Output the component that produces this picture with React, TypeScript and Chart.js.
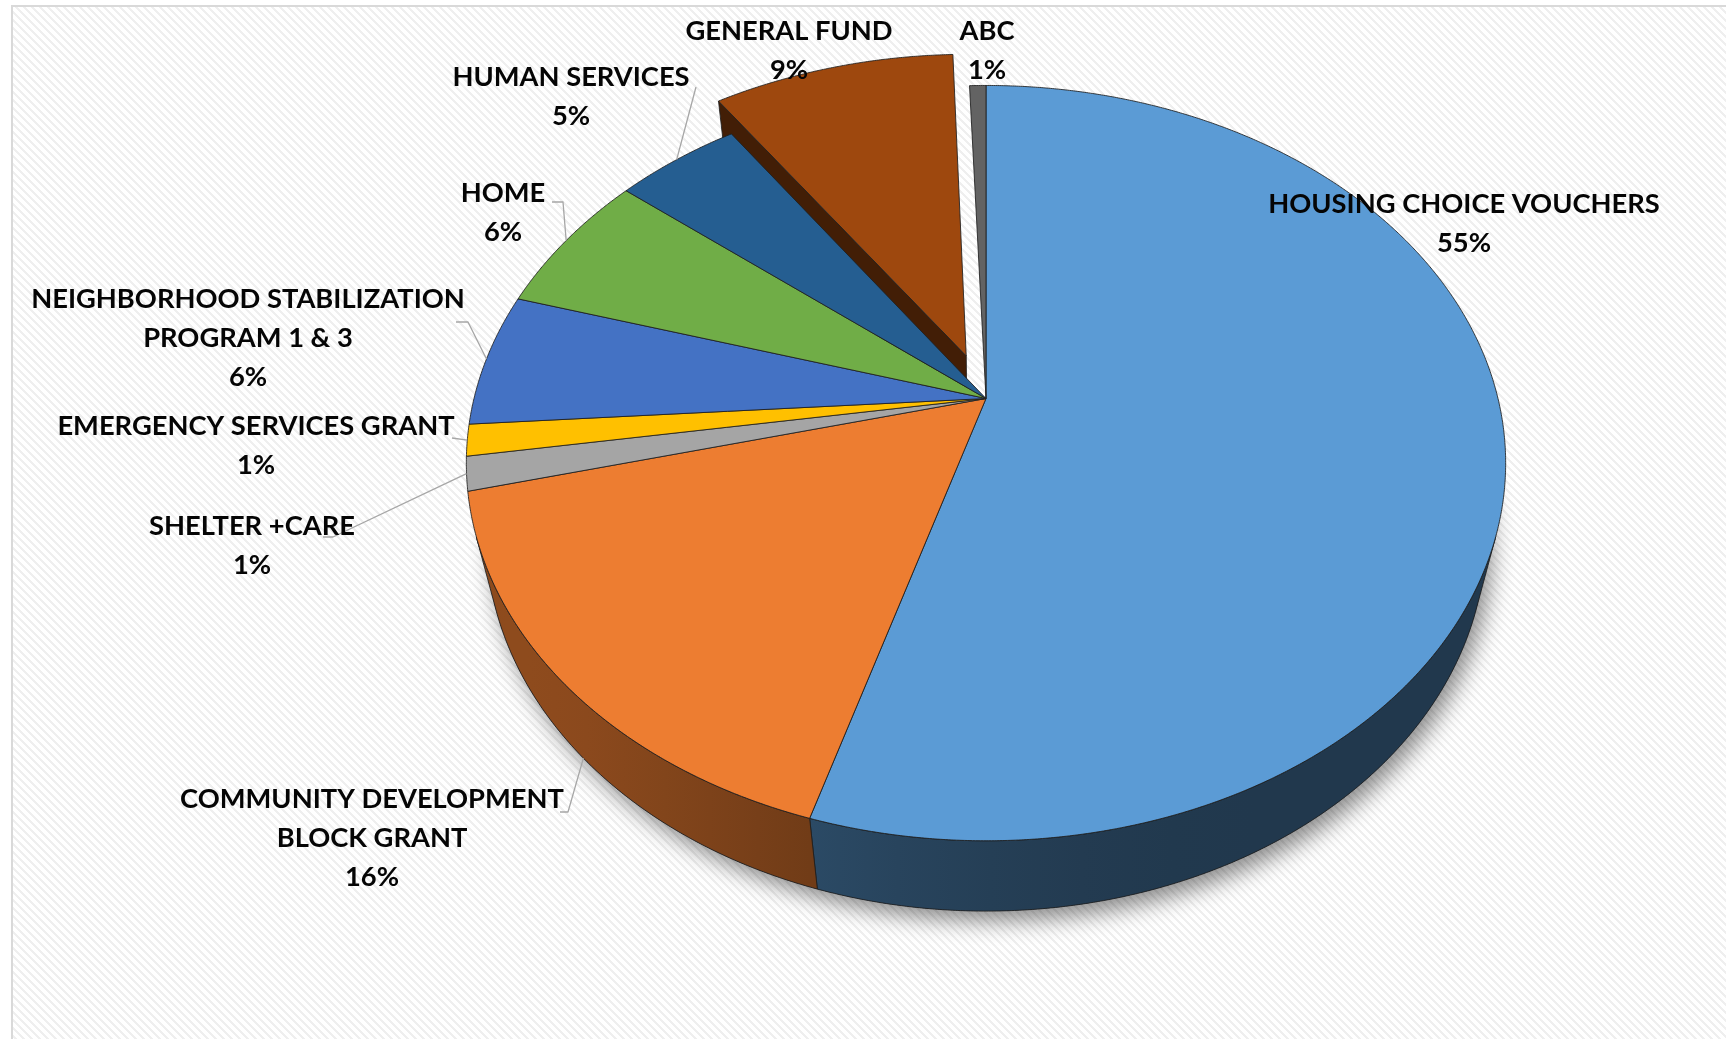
import React, { useEffect, useRef } from "react";
import { Chart, registerables } from "chart.js";

Chart.register(...registerables);

// ---------------- data ----------------
const categories = [
  "HOUSING CHOICE VOUCHERS",
  "COMMUNITY DEVELOPMENT\nBLOCK GRANT",
  "SHELTER +CARE",
  "EMERGENCY SERVICES GRANT",
  "NEIGHBORHOOD STABILIZATION\nPROGRAM 1 & 3",
  "HOME",
  "HUMAN SERVICES",
  "GENERAL FUND",
  "ABC",
];
const shares = [54.65, 16.45, 1.45, 1.35, 5.7, 6.2, 4.6, 9.0, 0.6];
const sliceColors = [
  "#5B9BD5",
  "#ED7D31",
  "#A5A5A5",
  "#FFC000",
  "#4472C4",
  "#70AD47",
  "#255E91",
  "#9E480E",
  "#636363",
];
const explodedIndex = 7;

// ---------------- layout (positions / styles) ----------------
const W = 1726;
const H = 1039;
const labelPos: [number, number][] = [
  [1464, 203],
  [372, 798],
  [252, 525],
  [256, 425],
  [248, 298],
  [503, 192],
  [571, 76],
  [789, 30],
  [987, 30],
];
// [x, y, horizontal elbow length]
const leaderStart: ([number, number, number] | null)[] = [
  null,
  [560, 812, 8],
  [323, 537, 10],
  [452, 438, 0],
  [456, 322, 12],
  [552, 202, 11],
  [696, 87, 0],
  null,
  null,
];
const leaderOnBase = [false, true, false, false, false, false, false, false, false];
const LINE_H = 39;
const FONT = "bold 27.3px Lato";

// perspective view of the pie
const VIEW = { sin: 0.716, cos: 0.698, dist: 4.08, depth: 0.218 };

type Pt = [number, number];

function proj(cx: number, cy: number, R: number, X: number, Y: number, Z: number): Pt {
  const d = VIEW.dist - (Y * VIEW.sin + Z * VIEW.cos);
  const yc = Y * VIEW.cos - Z * VIEW.sin;
  const F = R * VIEW.dist;
  return [cx + (F * X) / d, cy - (F * yc) / d];
}

function hexToRgb(hex: string): [number, number, number] {
  const h = hex.replace("#", "");
  return [parseInt(h.slice(0, 2), 16), parseInt(h.slice(2, 4), 16), parseInt(h.slice(4, 6), 16)];
}
function shade(hex: string, f: number) {
  const [r, g, b] = hexToRgb(hex);
  return `rgb(${Math.round(r * f)},${Math.round(g * f)},${Math.round(b * f)})`;
}
function wallFactor(t: number) {
  const c = Math.max(0, Math.cos(t - (145 * Math.PI) / 180));
  return 0.36 + 0.24 * c * c * c;
}

function poly(ctx: CanvasRenderingContext2D, pts: Pt[]) {
  ctx.beginPath();
  pts.forEach((p, k) => (k ? ctx.lineTo(p[0], p[1]) : ctx.moveTo(p[0], p[1])));
  ctx.closePath();
}

function sliceGeometry(chart: any) {
  const meta = chart.getDatasetMeta(0);
  const arcs = meta.data as any[];
  const cx = arcs[0].x;
  const cy = arcs[0].y;
  const R = arcs[0].outerRadius;
  const info = arcs.map((arc: any, i: number) => {
    const s = arc.startAngle;
    const e = arc.endAngle;
    const off = (arc.options.offset || 0) / R;
    const m = (s + e) / 2;
    return {
      i,
      s,
      e,
      m,
      ox: Math.cos(m) * off,
      oz: Math.sin(m) * off,
      color: arc.options.backgroundColor as string,
      border: arc.options.borderColor as string,
      bw: arc.options.borderWidth as number,
    };
  });
  return { cx, cy, R, info };
}

const pie3dPlugin = {
  id: "pie3d",
  beforeDatasetDraw(chart: any) {
    const ctx: CanvasRenderingContext2D = chart.ctx;
    const { cx, cy, R, info } = sliceGeometry(chart);
    const hD = -VIEW.depth;
    const camZ = VIEW.dist * VIEW.cos;
    const camX = 0;
    const P = (a: any, rho: number, y: number, t: number) =>
      proj(cx, cy, R, rho * Math.cos(t) + a.ox, y, rho * Math.sin(t) + a.oz);
    const step = Math.PI / 720;

    // soft shadow under the front half of the base
    ctx.save();
    const base: Pt[] = [];
    for (let k = 0; k <= 360; k++) {
      const t = (k * Math.PI) / 360;
      base.push(proj(cx, cy, R, Math.cos(t), hD, Math.sin(t)));
    }
    poly(ctx, base);
    ctx.shadowColor = "rgba(0,0,0,0.45)";
    ctx.shadowBlur = 22;
    ctx.shadowOffsetX = 6;
    ctx.shadowOffsetY = 10;
    ctx.fillStyle = "#22384f";
    ctx.fill();
    ctx.restore();

    ctx.lineJoin = "round";

    // radial cut faces of exploded slices
    for (const a of info) {
      if (a.ox === 0 && a.oz === 0) continue;
      const faces: [number, number][] = [
        [a.s, 1],
        [a.e, -1],
      ];
      for (const [t, sg] of faces) {
        const nx = sg === 1 ? Math.sin(t) : -Math.sin(t);
        const nz = sg === 1 ? -Math.cos(t) : Math.cos(t);
        const mx = 0.5 * Math.cos(t) + a.ox;
        const mz = 0.5 * Math.sin(t) + a.oz;
        const dot = nx * (camX - mx) + nz * (camZ - mz);
        if (dot <= 0) continue;
        poly(ctx, [P(a, 0, 0, t), P(a, 1, 0, t), P(a, 1, hD, t), P(a, 0, hD, t)]);
        ctx.fillStyle = shade(a.color, 0.42);
        ctx.fill();
        ctx.strokeStyle = a.border;
        ctx.lineWidth = a.bw;
        ctx.stroke();
      }
    }

    // outer walls
    const drawWall = (a: any, ts: number[]) => {
      const top = ts.map((t) => P(a, 1, 0, t));
      const bot = ts.map((t) => P(a, 1, hD, t)).reverse();
      poly(ctx, top.concat(bot));
      const xA = top[0][0];
      const xB = top[top.length - 1][0];
      if (Math.abs(xB - xA) > 1) {
        const g = ctx.createLinearGradient(xA, 0, xB, 0);
        let last = 0;
        const n = 10;
        for (let k = 0; k <= n; k++) {
          const idx = Math.round(((ts.length - 1) * k) / n);
          let pos = (top[idx][0] - xA) / (xB - xA);
          pos = Math.min(1, Math.max(last, pos));
          last = pos;
          g.addColorStop(pos, shade(a.color, wallFactor(ts[idx])));
        }
        ctx.fillStyle = g;
      } else {
        ctx.fillStyle = shade(a.color, wallFactor(ts[0]));
      }
      ctx.fill();
      ctx.strokeStyle = a.border;
      ctx.lineWidth = a.bw;
      ctx.stroke();
    };
    for (const a of info) {
      const n = Math.max(2, Math.ceil((a.e - a.s) / step));
      let run: number[] = [];
      const flush = () => {
        if (run.length >= 2) drawWall(a, run);
        run = [];
      };
      for (let k = 0; k <= n; k++) {
        const t = a.s + ((a.e - a.s) * k) / n;
        const vis = -1 - a.ox * Math.cos(t) - a.oz * Math.sin(t) + camZ * Math.sin(t) > 0;
        if (vis) run.push(t);
        else flush();
      }
      flush();
    }

    // top faces
    for (const a of info) {
      const n = Math.max(2, Math.ceil((a.e - a.s) / step));
      const pts: Pt[] = [P(a, 0, 0, a.s)];
      for (let k = 0; k <= n; k++) pts.push(P(a, 1, 0, a.s + ((a.e - a.s) * k) / n));
      poly(ctx, pts);
      ctx.fillStyle = a.color;
      ctx.fill();
      ctx.strokeStyle = a.border;
      ctx.lineWidth = a.bw;
      ctx.stroke();
    }
    return false;
  },
};

const labelPlugin = {
  id: "pieLabels",
  afterDraw(chart: any) {
    const ctx: CanvasRenderingContext2D = chart.ctx;
    const { cx, cy, R, info } = sliceGeometry(chart);
    const total = shares.reduce((s, v) => s + v, 0);
    ctx.save();
    // leader lines
    ctx.strokeStyle = "#a6a6a6";
    ctx.lineWidth = 1.3;
    info.forEach((a: any, i: number) => {
      const ls = leaderStart[i];
      if (!ls) return;
      const y = leaderOnBase[i] ? -VIEW.depth : 0;
      const anchor = proj(cx, cy, R, Math.cos(a.m) + a.ox, y, Math.sin(a.m) + a.oz);
      ctx.beginPath();
      ctx.moveTo(ls[0], ls[1]);
      if (ls[2]) ctx.lineTo(ls[0] + ls[2], ls[1]);
      ctx.lineTo(anchor[0], anchor[1]);
      ctx.stroke();
    });
    // texts
    ctx.font = FONT;
    ctx.fillStyle = "#050505";
    ctx.textAlign = "center";
    ctx.textBaseline = "alphabetic";
    categories.forEach((name, i) => {
      const lines = name.split("\n");
      lines.push(Math.round((shares[i] / total) * 100) + "%");
      const [x, y] = labelPos[i];
      lines.forEach((ln, j) => ctx.fillText(ln, x, y + j * LINE_H + 10));
    });
    ctx.restore();
  },
};

const backgroundPlugin = {
  id: "hatchBackground",
  beforeDraw(chart: any) {
    const ctx: CanvasRenderingContext2D = chart.ctx;
    ctx.save();
    ctx.fillStyle = "#ffffff";
    ctx.fillRect(0, 0, chart.width, chart.height);
    const tile = document.createElement("canvas");
    tile.width = 8;
    tile.height = 8;
    const tc = tile.getContext("2d")!;
    tc.fillStyle = "#ffffff";
    tc.fillRect(0, 0, 8, 8);
    tc.fillStyle = "#efefef";
    for (let y = 0; y < 8; y++) {
      for (let x = 0; x < 8; x++) {
        if ((((x - y) % 8) + 8) % 8 < 3) tc.fillRect(x, y, 1, 1);
      }
    }
    const pat = ctx.createPattern(tile, "repeat");
    if (pat) {
      ctx.fillStyle = pat;
      ctx.fillRect(12, 7, chart.width - 12, chart.height - 7);
    }
    ctx.strokeStyle = "#d9d9d9";
    ctx.lineWidth = 2;
    ctx.beginPath();
    ctx.moveTo(12, chart.height);
    ctx.lineTo(12, 6);
    ctx.lineTo(chart.width, 6);
    ctx.stroke();
    ctx.restore();
  },
};

export default function App() {
  const ref = useRef<HTMLCanvasElement>(null);
  useEffect(() => {
    document.body.style.margin = "0";
    const chart = new Chart(ref.current!, {
      type: "pie",
      data: {
        labels: categories.map((c) => c.replace("\n", " ")),
        datasets: [
          {
            data: shares,
            backgroundColor: sliceColors,
            borderColor: "rgba(30,30,30,0.85)",
            borderWidth: 1,
            radius: 512,
            offset: (c: any) => (c.dataIndex === explodedIndex ? 64 : 0),
          } as any,
        ],
      },
      options: {
        responsive: false,
        animation: false,
        events: [],
        layout: { padding: { left: 246, right: 0, top: 0, bottom: 242 } },
        plugins: { legend: { display: false }, tooltip: { enabled: false } },
      },
      plugins: [backgroundPlugin, pie3dPlugin, labelPlugin],
    });
    return () => chart.destroy();
  }, []);
  return (
    <div style={{ position: "fixed", left: 0, top: 0, width: W, height: H }}>
      <canvas ref={ref} width={W} height={H} style={{ display: "block", width: W, height: H }} />
    </div>
  );
}
